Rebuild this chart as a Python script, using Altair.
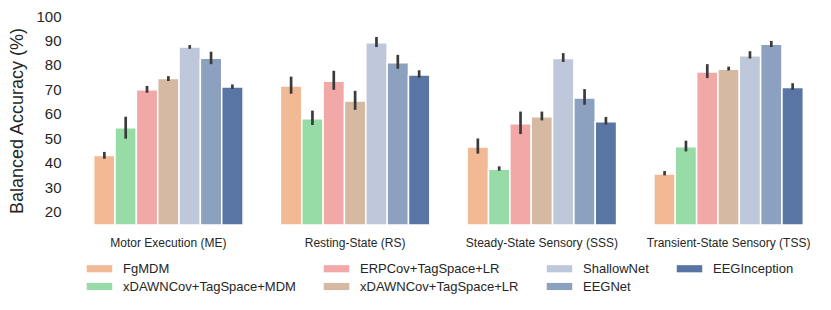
import altair as alt
import pandas as pd

groups = ["Motor Execution (ME)", "Resting-State (RS)",
          "Steady-State Sensory (SSS)", "Transient-State Sensory (TSS)"]
methods = ["FgMDM", "xDAWNCov+TagSpace+MDM", "ERPCov+TagSpace+LR",
           "xDAWNCov+TagSpace+LR", "ShallowNet", "EEGNet", "EEGInception"]
colors = ["#f1b994", "#97dba7", "#f3a8a8", "#d5b9a0", "#bec8da", "#8ca0c0", "#5975a4"]

# mean values per method, one entry per group (ME, RS, SSS, TSS)
means = {
    "FgMDM":                 [42.9, 71.4, 46.4, 35.4],
    "xDAWNCov+TagSpace+MDM": [54.3, 58.0, 37.3, 46.5],
    "ERPCov+TagSpace+LR":    [69.8, 73.3, 55.9, 77.1],
    "xDAWNCov+TagSpace+LR":  [74.4, 65.2, 58.8, 78.2],
    "ShallowNet":            [87.3, 89.1, 82.6, 83.7],
    "EEGNet":                [82.7, 80.9, 66.5, 88.4],
    "EEGInception":          [71.0, 75.9, 56.7, 70.7],
}
err_low = {
    "FgMDM":                 [41.6, 68.2, 43.7, 34.8],
    "xDAWNCov+TagSpace+MDM": [49.8, 55.4, 36.7, 44.6],
    "ERPCov+TagSpace+LR":    [68.6, 69.8, 51.7, 74.6],
    "xDAWNCov+TagSpace+LR":  [73.4, 61.6, 57.3, 77.7],
    "ShallowNet":            [86.6, 87.3, 81.2, 82.6],
    "EEGNet":                [80.3, 78.4, 63.7, 87.3],
    "EEGInception":          [70.2, 74.7, 55.6, 69.8],
}
err_high = {
    "FgMDM":                 [44.4, 75.2, 49.9, 36.6],
    "xDAWNCov+TagSpace+MDM": [58.8, 61.3, 38.5, 49.0],
    "ERPCov+TagSpace+LR":    [71.4, 77.6, 60.9, 80.3],
    "xDAWNCov+TagSpace+LR":  [75.4, 69.4, 60.9, 79.3],
    "ShallowNet":            [88.1, 91.4, 84.8, 85.6],
    "EEGNet":                [85.4, 84.1, 70.1, 89.8],
    "EEGInception":          [72.0, 77.8, 58.7, 72.5],
}
y_ticks = [20, 30, 40, 50, 60, 70, 80, 90, 100]

rows = []
for m in methods:
    for i, g in enumerate(groups):
        rows.append({"group": g, "method": m, "mean": means[m][i],
                     "lo": err_low[m][i], "hi": err_high[m][i]})
df = pd.DataFrame(rows)

FONT = "Liberation Sans"

x_enc = alt.X("group:N", sort=groups,
              scale=alt.Scale(paddingInner=0.2, paddingOuter=0.1),
              axis=alt.Axis(title=None, labelAngle=0, labelFontSize=12,
                            labelPadding=12, ticks=False, domain=False,
                            labelColor="#262626", labelFont=FONT))
xo_enc = alt.XOffset("method:N", sort=methods,
                     scale=alt.Scale(paddingInner=0, paddingOuter=0))

bars = alt.Chart(df).mark_bar(stroke="white", strokeWidth=1.5, opacity=1).encode(
    x=x_enc,
    xOffset=xo_enc,
    y=alt.Y("mean:Q",
            scale=alt.Scale(domain=[14.5, 100], nice=False, zero=False, clamp=True),
            axis=alt.Axis(title="Balanced Accuracy (%)", values=y_ticks,
                          tickCount=20,
                          labelFontSize=15, labelPadding=14, ticks=False,
                          labelOverlap=False, labelFlush=False,
                          domain=False, grid=False, titleFontSize=18,
                          titleFontWeight="normal", titlePadding=9,
                          labelColor="#262626", titleColor="#262626",
                          labelFont=FONT, titleFont=FONT)),
    color=alt.Color("method:N",
                    scale=alt.Scale(domain=methods, range=colors),
                    legend=alt.Legend(title=None, orient="none", legendX=16,
                                      legendY=244, columns=4,
                                      symbolType="M-1.5,-0.42H1.5V0.42H-1.5Z",
                                      symbolSize=289, symbolStrokeWidth=0,
                                      symbolOpacity=1,
                                      labelFontSize=13, labelOffset=15,
                                      labelLimit=400,
                                      columnPadding=27, rowPadding=2,
                                      labelColor="#262626", labelFont=FONT)),
)

errs = alt.Chart(df).mark_rule(color="#3b3b3b", strokeWidth=2.7).encode(
    x=alt.X("group:N", sort=groups),
    xOffset=alt.XOffset("method:N", sort=methods),
    y="lo:Q",
    y2="hi:Q",
)

chart = alt.layer(bars, errs).properties(
    width=747, height=209,
    autosize=alt.AutoSizeParams(type="none"),
    padding={"left": 67, "top": 8, "right": 0, "bottom": 77},
).configure_view(stroke=None).configure_axis(grid=False)

chart.save("out.html", embed_options={"renderer": "svg", "actions": False})
